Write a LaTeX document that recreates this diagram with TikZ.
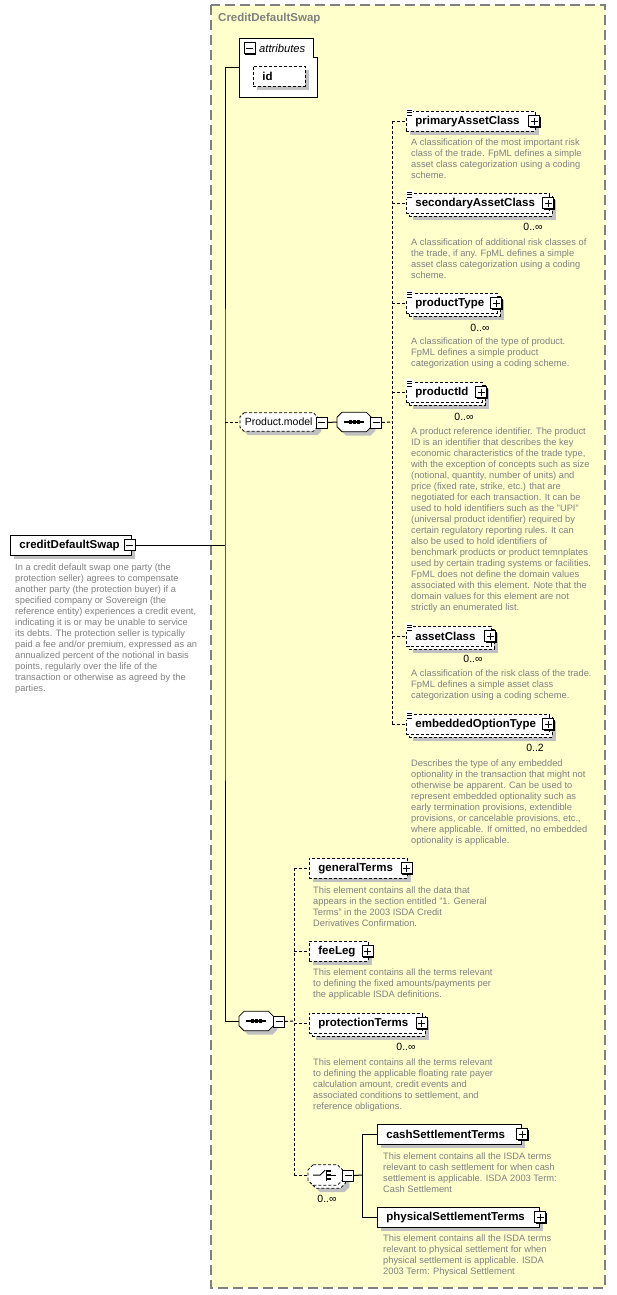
\documentclass[tikz,border=0pt]{standalone}
\usepackage{fontspec}
\setmainfont{Liberation Sans}
\usetikzlibrary{shadows,calc}
\definecolor{grpfill}{RGB}{255,255,204}
\definecolor{grpline}{RGB}{128,128,128}
\definecolor{descgray}{RGB}{128,128,128}
\definecolor{shad}{RGB}{192,192,192}
\newcommand{\lbx}[2]{\makebox[#1pt][l]{#2}}
\newcommand{\ticon}[1]{%
  \fill[white] ($(#1.north west)+(-1,-3)$) rectangle ++(8,8.5);
  \foreach \k in {-1,1.5,4} \draw[line width=0.7pt] ($(#1.north west)+(1,\k)$) -- ++(5,0);
}
% chamfered outline of a node: #1 node, #2 dx, #3 dy, #4 cut, #5 path options
\newcommand{\chamshape}[5]{%
  \path[#5] ($(#1.north west)+(#2+#4,#3)$) -- ($(#1.north east)+(#2-#4,#3)$)
    -- ($(#1.north east)+(#2,#3+#4)$) -- ($(#1.south east)+(#2,#3-#4)$)
    -- ($(#1.south east)+(#2-#4,#3)$) -- ($(#1.south west)+(#2+#4,#3)$)
    -- ($(#1.south west)+(#2,#3-#4)$) -- ($(#1.north west)+(#2,#3+#4)$) -- cycle;}
\newcommand{\seqicon}[1]{%
  \draw[line width=1.2pt] ($(#1.center)+(-10,0)$) -- ($(#1.center)+(10,0)$);
  \foreach \d in {-4,0,4} \fill ($(#1.center)+(\d-1.6,-1.6)$) rectangle +(3.2,3.2);}
\newcommand{\choiceicon}[1]{%
  \draw[line width=1pt] ($(#1.center)+(-12,0)$) -- ($(#1.center)+(-5,0)$) -- ($(#1.center)+(0,-5)$);
  \draw[line width=1pt] ($(#1.center)+(1.5,-5.5)$) -- ($(#1.center)+(1.5,5.5)$);
  \foreach \d in {-4,0,4} \fill ($(#1.center)+(1.5,\d-1.2)$) rectangle +(4,2.4);
  \draw[line width=1pt] ($(#1.center)+(5.5,0)$) -- ($(#1.center)+(11,0)$);}
\begin{document}
\begin{tikzpicture}[x=1pt,y=-1pt,
  conn/.style={line width=1pt},
  optconn/.style={line width=1pt, dash pattern=on 3pt off 2pt},
  sh/.style={general shadow={fill=shad, shadow xshift=4pt, shadow yshift=-4pt}},
  mult/.style={general shadow={fill=shad, shadow xshift=7pt, shadow yshift=-7pt},
               general shadow={draw=black, fill=white, line width=0.8pt, dash pattern=on 3pt off 2pt, shadow xshift=3pt, shadow yshift=-3pt}},
  elem/.style={draw, fill=white, line width=0.8pt, minimum height=20pt, inner xsep=9pt, inner ysep=0pt, anchor=north west, font=\fontsize{11.5}{13}\selectfont\bfseries},
  opt/.style={dash pattern=on 3pt off 2pt},
  pm/.style={draw, fill=white, line width=1pt, minimum size=11pt, inner sep=0pt, general shadow={fill=black, shadow xshift=0.8pt, shadow yshift=-0.8pt}},
  plusbox/.style={pm, path picture={\draw[line width=1pt] ($(path picture bounding box.center)+(-3.5,0)$) -- +(7,0) ($(path picture bounding box.center)+(0,-3.5)$) -- +(0,7);}},
  minusbox/.style={pm, path picture={\draw[line width=1pt] ($(path picture bounding box.center)+(-3.5,0)$) -- +(7,0);}},
  desc/.style={anchor=north west, inner sep=0pt, align=left, text=descgray, font=\fontsize{9.3}{11}\selectfont},
  card/.style={inner sep=0pt, font=\fontsize{10.5}{12}\selectfont},
  compbox/.style={draw=none, minimum width=34pt, minimum height=19pt, inner sep=0pt, anchor=west},
  chamfront/.style={draw=black, fill=white, line width=0.8pt},
]
\useasboundingbox (0,0) rectangle (616,1295);
% group box
\draw[fill=grpfill, draw=grpline, line width=1.5pt, dash pattern=on 10pt off 5pt] (211,5) rectangle (605,1288);
\node[anchor=west, inner sep=0pt, text=grpline, font=\fontsize{11.5}{13}\selectfont\bfseries] (gtitle) at (218,19) {CreditDefaultSwap};

% attributes
\draw[fill=white, line width=0.8pt] (239,38) -- (313,38) -- (313,57) -- (317,57) -- (317,97) -- (239,97) -- cycle;
\node[minusbox] (attrm) at (249.5,48.5) {};
\node[anchor=west, inner sep=0pt, font=\itshape\fontsize{11.2}{13}\selectfont] (attrl) at (259,48) {attributes};
\node[elem, opt, sh] (id) at (253,66) {\lbx{34}{id}};
\coordinate (attrw) at (239,68);

% root element
\node[elem, sh] (cds) at (10,535) {\lbx{103}{creditDefaultSwap}};
\node[minusbox] (cdsm) at (129.5,545) {};
\node[desc] (cdsd) at (15,563.4) {In a credit default swap one party (the\\protection seller) agrees to compensate\\another party (the protection buyer) if a\\specified company or Sovereign (the\\reference entity) experiences a credit event,\\indicating it is or may be unable to service\\its debts. The protection seller is typically\\paid a fee and/or premium, expressed as an\\annualized percent of the notional in basis\\points, regularly over the life of the\\transaction or otherwise as agreed by the\\parties.};

% Product.model group
\node[compbox, minimum width=77pt, minimum height=18pt] (pm) at (240,422) {};
\chamshape{pm}{4}{4}{4}{fill=shad}
\chamshape{pm}{0}{0}{4}{chamfront, opt}
\node[inner sep=0pt, font=\fontsize{10.5}{12}\selectfont] (pmlabel) at (pm.center) {Product.model};
\node[minusbox] (pmm) at (321.5,422.5) {};
\node[compbox] (seq1) at (337,422) {};
\chamshape{seq1}{4}{4}{5}{fill=shad}
\chamshape{seq1}{0}{0}{5}{chamfront}
\seqicon{seq1}
\node[minusbox] (seq1m) at (376,422.5) {};
\coordinate (s1) at (392,422);

\node[elem, opt, sh] (pac) at (406,111) {\lbx{111}{primaryAssetClass}};
\node[plusbox] (pacp) at ([xshift=-1.5pt]pac.east) {};
\node[desc] (pacd) at (411,138.4) {A classification of the most important risk\\class of the trade. FpML defines a simple\\asset class categorization using a coding\\scheme.};

\node[elem, opt, mult] (sac) at (406,193) {\lbx{125}{secondaryAssetClass}};
\node[plusbox] (sacp) at ([xshift=-1.5pt]sac.east) {};
\node[card] (sacc) at (533,227) {0..∞};
\node[desc] (sacd) at (411,238.7) {A classification of additional risk classes of\\the trade, if any. FpML defines a simple\\asset class categorization using a coding\\scheme.};

\node[elem, opt, mult] (pt) at (406,293) {\lbx{73}{productType}};
\node[plusbox] (ptp) at ([xshift=-1.5pt]pt.east) {};
\node[card] (ptc) at (480,328) {0..∞};
\node[desc] (ptd) at (411,337.7) {A classification of the type of product.\\FpML defines a simple product\\categorization using a coding scheme.};

\node[elem, opt, mult] (pid) at (406,382) {\lbx{58}{productId}};
\node[plusbox] (pidp) at ([xshift=-1.5pt]pid.east) {};
\node[card] (pidc) at (464,417) {0..∞};
\node[desc] (pidd) at (411,427.4) {A product reference identifier. The product\\ID is an identifier that describes the key\\economic characteristics of the trade type,\\with the exception of concepts such as size\\(notional, quantity, number of units) and\\price (fixed rate, strike, etc.) that are\\negotiated for each transaction. It can be\\used to hold identifiers such as the "UPI"\\(universal product identifier) required by\\certain regulatory reporting rules. It can\\also be used to hold identifiers of\\benchmark products or product temnplates\\used by certain trading systems or facilities.\\FpML does not define the domain values\\associated with this element. Note that the\\domain values for this element are not\\strictly an enumerated list.};

\node[elem, opt, mult] (ac) at (406,626) {\lbx{67}{assetClass}};
\node[plusbox] (acp) at ([xshift=-1.5pt]ac.east) {};
\node[card] (acc) at (473,659) {0..∞};
\node[desc] (acd) at (411,670) {A classification of the risk class of the trade.\\FpML defines a simple asset class\\categorization using a coding scheme.};

\node[elem, opt, mult] (eot) at (406,714) {\lbx{125}{embeddedOptionType}};
\node[plusbox] (eotp) at ([xshift=-1.5pt]eot.east) {};
\node[card] (eotc) at (535,748) {0..2};
\node[desc] (eotd) at (411,759.7) {Describes the type of any embedded\\optionality in the transaction that might not\\otherwise be apparent. Can be used to\\represent embedded optionality such as\\early termination provisions, extendible\\provisions, or cancelable provisions, etc.,\\where applicable. If omitted, no embedded\\optionality is applicable.};

\foreach \n in {pac,sac,pt,pid,ac,eot} {\ticon{\n}}

% second sequence
\node[compbox] (seq2) at (239,1021) {};
\chamshape{seq2}{4}{4}{5}{fill=shad}
\chamshape{seq2}{0}{0}{5}{chamfront}
\seqicon{seq2}
\node[minusbox] (seq2m) at (279,1021.5) {};
\coordinate (s2) at (294,1021);

\node[elem, opt, sh] (gt) at (309,858) {\lbx{80}{generalTerms}};
\node[plusbox] (gtp) at ([xshift=-1pt]gt.east) {};
\node[desc] (gtd) at (313,886.4) {This element contains all the data that\\appears in the section entitled "1. General\\Terms" in the 2003 ISDA Credit\\Derivatives Confirmation.};

\node[elem, opt, sh] (fl) at (309,941) {\lbx{41}{feeLeg}};
\node[plusbox] (flp) at ([xshift=-1pt]fl.east) {};
\node[desc] (fld) at (313,968.7) {This element contains all the terms relevant\\to defining the fixed amounts/payments per\\the applicable ISDA definitions.};

\node[elem, opt, mult] (ptm) at (309,1013) {\lbx{95}{protectionTerms}};
\node[plusbox] (ptmp) at ([xshift=-1pt]ptm.east) {};
\node[card] (ptmc) at (406,1047) {0..∞};
\node[desc] (ptmd) at (313,1058.4) {This element contains all the terms relevant\\to defining the applicable floating rate payer\\calculation amount, credit events and\\associated conditions to settlement, and\\reference obligations.};

% choice
\node[compbox, minimum height=20pt] (ch) at (308,1175) {};
\chamshape{ch}{7}{7}{5}{fill=shad}
\chamshape{ch}{3}{3}{5}{chamfront, opt}
\chamshape{ch}{0}{0}{5}{chamfront, opt}
\choiceicon{ch}
\node[minusbox] (chm) at (348,1175.5) {};
\node[card] (chc) at (327,1199) {0..∞};
\coordinate (s3) at (362,1175);

\node[elem, sh] (cst) at (377,1124) {\lbx{126}{cashSettlementTerms}};
\node[plusbox] (cstp) at ([xshift=0.5pt]cst.east) {};
\node[desc] (cstd) at (383,1152.4) {This element contains all the ISDA terms\\relevant to cash settlement for when cash\\settlement is applicable. ISDA 2003 Term:\\Cash Settlement};

\node[elem, sh] (pst) at (377,1207) {\lbx{144}{physicalSettlementTerms}};
\node[plusbox] (pstp) at ([xshift=0.5pt]pst.east) {};
\node[desc] (pstd) at (383,1235) {This element contains all the ISDA terms\\relevant to physical settlement for when\\physical settlement is applicable. ISDA\\2003 Term: Physical Settlement};

% connectors
\coordinate (ms) at (225,545);
\draw[conn] (attrw) -| (ms) |- (seq2.west);
\draw[conn] (cdsm.east) -- (ms);
\draw[optconn] (ms |- pm.west) -- (pm.west);
\draw[conn] (pmm.east) -- (seq1.west);
\draw[optconn] (seq1m.east) -- (s1);
\draw[optconn] (s1 |- pac.west) -- (s1 |- eot.west);
\foreach \n in {pac,sac,pt,pid,ac,eot} {\draw[optconn] (s1 |- \n.west) -- (\n.west);}
\draw[optconn] (seq2m.east) -- (s2);
\draw[optconn] (s2 |- gt.west) -- (s2 |- ch.west);
\foreach \n in {gt,fl,ptm,ch} {\draw[optconn] (s2 |- \n.west) -- (\n.west);}
\draw[conn] (chm.east) -- (s3);
\draw[conn] (s3 |- cst.west) -- (s3 |- pst.west);
\foreach \n in {cst,pst} {\draw[conn] (s3 |- \n.west) -- (\n.west);}
\end{tikzpicture}
\end{document}
